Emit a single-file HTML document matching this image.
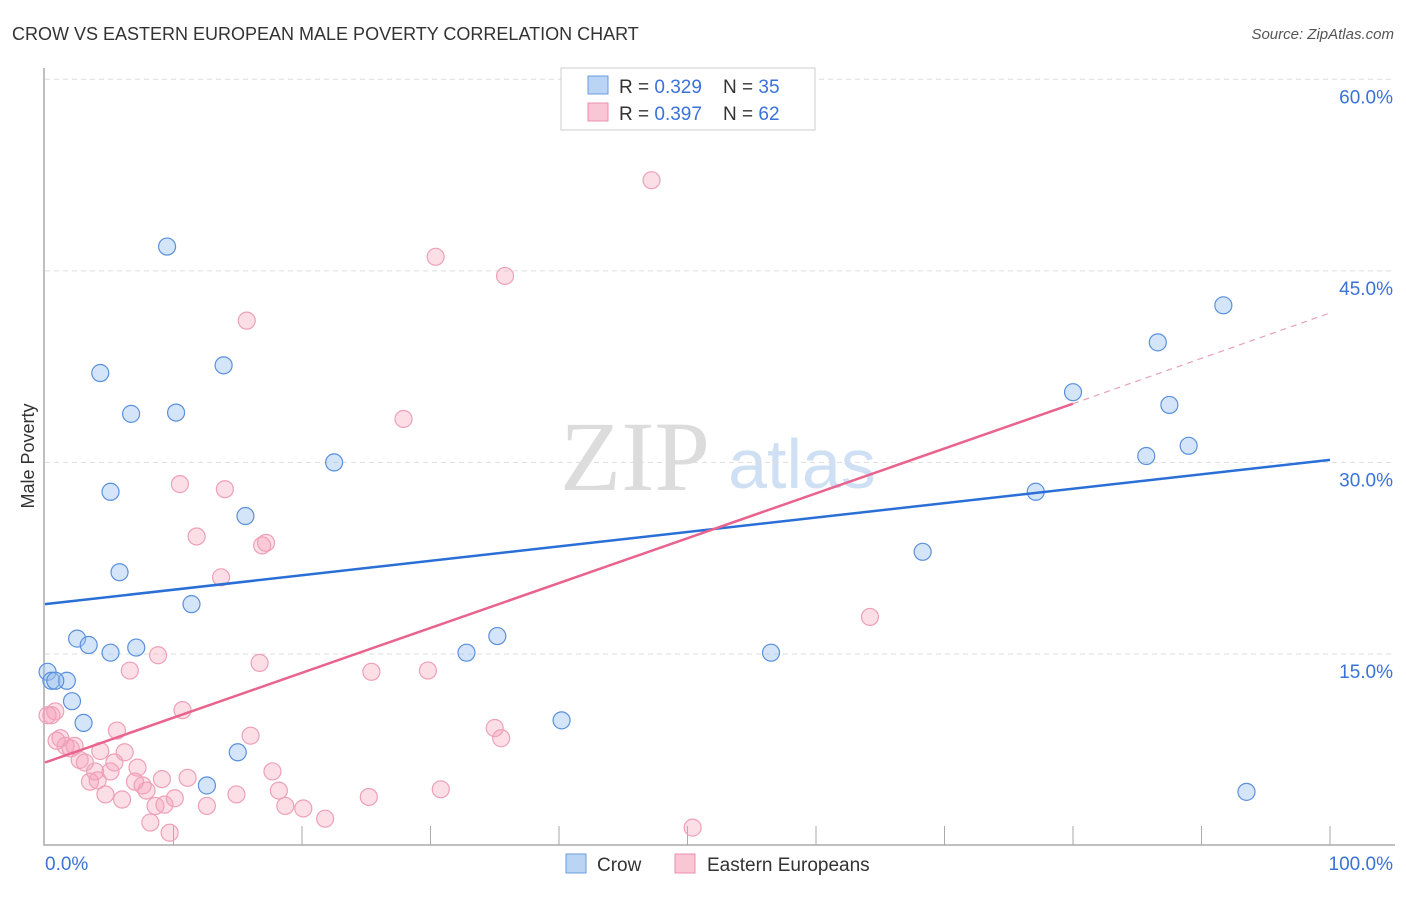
<!DOCTYPE html>
<html><head><meta charset="utf-8"><style>
body{margin:0;background:#fff;font-family:"Liberation Sans",sans-serif}
</style></head><body>
<svg id="c" width="1406" height="892" xmlns="http://www.w3.org/2000/svg" font-family="Liberation Sans, sans-serif">
<text x="12" y="40" font-size="18" fill="#333">CROW VS EASTERN EUROPEAN MALE POVERTY CORRELATION CHART</text>
<text x="1394" y="39" font-size="15" fill="#555" font-style="italic" text-anchor="end">Source: ZipAtlas.com</text>
<text x="34" y="456" font-size="18" fill="#333" text-anchor="middle" transform="rotate(-90 34 456)">Male Poverty</text>
<g><text x="635" y="490" font-size="100" fill="#dcdcdc" style="font-family:'Liberation Serif',serif" text-anchor="middle">ZIP</text><text x="802" y="488" font-size="70" fill="#cfe0f5" text-anchor="middle">atlas</text></g>
<g id="grid"></g><g id="pts"></g><g id="lines"></g>
<g>
<rect x="561" y="68" width="254" height="62" fill="#fff" stroke="#ccc"/>
<rect x="588" y="76" width="20" height="18" fill="#b9d4f5" stroke="#6a9de0"/>
<rect x="588" y="103" width="20" height="18" fill="#f9c6d5" stroke="#ec8fab"/>
<text x="619" y="93" font-size="19" fill="#333">R = <tspan fill="#3a72d8">0.329</tspan>&#160;&#160;&#160; N = <tspan fill="#3a72d8">35</tspan></text>
<text x="619" y="120" font-size="19" fill="#333">R = <tspan fill="#3a72d8">0.397</tspan>&#160;&#160;&#160; N = <tspan fill="#3a72d8">62</tspan></text>
</g>
<g>
<rect x="566" y="854" width="20" height="19" fill="#b9d4f5" stroke="#6a9de0"/>
<text x="597" y="871" font-size="19" fill="#333">Crow</text>
<rect x="675" y="854" width="20" height="19" fill="#f9c6d5" stroke="#ec8fab"/>
<text x="707" y="871" font-size="19" fill="#333">Eastern Europeans</text>
</g>
</svg>
<script>
const yTicks=[15,30,45,60];
const xLabels=["0.0%","100.0%"];
const crowX=[0.2,0.5,1.7,2.1,3.0,2.5,3.4,5.1,7.1,4.3,6.7,10.2,9.5,13.9,5.1,5.8,11.4,15.6,15.0,12.6,22.5,32.8,35.2,40.2,56.5,68.3,77.1,80.0,85.7,86.6,87.5,89.0,91.7,93.5,0.8];
const crowY=[13.6,12.9,12.9,11.3,9.6,16.2,15.7,15.1,15.5,37.0,33.8,33.9,46.9,37.6,27.7,21.4,18.9,25.8,7.3,4.7,30.0,15.1,16.4,9.8,15.1,23.0,27.7,35.5,30.5,39.4,34.5,31.3,42.3,4.2,12.9];
const eeX=[0.5,0.8,1.2,1.6,2.0,2.3,2.7,3.1,3.5,3.9,4.1,4.3,4.7,5.1,5.4,5.6,6.0,6.2,6.6,7.0,7.2,7.6,7.9,8.2,8.6,8.8,9.1,9.3,9.7,10.1,10.5,10.7,11.1,11.8,12.6,13.7,14.0,14.9,15.7,16.0,16.7,16.9,17.2,17.7,18.2,18.7,20.1,21.8,25.2,25.4,27.9,29.8,30.4,30.8,35.0,35.5,35.8,47.2,50.4,64.2,0.2,0.9];
const eeY=[10.2,10.5,8.4,7.8,7.6,7.8,6.7,6.5,5.0,5.8,5.1,7.4,4.0,5.8,6.5,9.0,3.6,7.3,13.7,5.0,6.1,4.7,4.3,1.8,3.1,14.9,5.2,3.2,1.0,3.7,28.3,10.6,5.3,24.2,3.1,21.0,27.9,4.0,41.1,8.6,14.3,23.5,23.7,5.8,4.3,3.1,2.9,2.1,3.8,13.6,33.4,13.7,46.1,4.4,9.2,8.4,44.6,52.1,1.4,17.9,10.2,8.2];
const crowLine=[0,18.9,100,30.2];
const eeLine=[0,6.5,80,34.6,100,41.7];
const X=v=>45+v*12.85, Y=v=>845.5-v*12.77;
const NS="http://www.w3.org/2000/svg";
function mk(t,a,p){const e=document.createElementNS(NS,t);for(const k in a)e.setAttribute(k,a[k]);p.appendChild(e);return e;}
const g=document.getElementById('grid');
for(const t of yTicks){const l=mk('line',{x1:45,x2:1395,y1:Y(t),y2:Y(t),stroke:'#ddd','stroke-dasharray':'5,4'},g);


const tx=mk('text',{x:1393,y:Y(t)+24,'font-size':19,fill:'#3a72d8','text-anchor':'end'},g);tx.textContent=t.toFixed(1)+'%';

}
const ax=mk('path',{d:'M44 68V845H1395',stroke:'#aaa',fill:'none','stroke-width':1.5},g);


for(let i=1;i<=10;i++){const tk=mk('line',{x1:X(i*10),x2:X(i*10),y1:826,y2:845,stroke:'#aaa'},g);

}
const l0=mk('text',{x:45,y:870,'font-size':19,fill:'#3a72d8'},g);l0.textContent=xLabels[0];


const l1=mk('text',{x:1393,y:870,'font-size':19,fill:'#3a72d8','text-anchor':'end'},g);l1.textContent=xLabels[1];


const p=document.getElementById('pts');
eeX.forEach((x,i)=>{const c=mk('circle',{cx:X(x),cy:Y(eeY[i]),r:8.5,fill:'rgba(245,160,185,0.35)',stroke:'#eea0b8','stroke-width':1.2},p);

});
crowX.forEach((x,i)=>{const c=mk('circle',{cx:X(x),cy:Y(crowY[i]),r:8.5,fill:'rgba(150,190,240,0.4)',stroke:'#5a90dc','stroke-width':1.2},p);

});
const L=document.getElementById('lines');
const b=mk('line',{x1:X(crowLine[0]),y1:Y(crowLine[1]),x2:X(crowLine[2]),y2:Y(crowLine[3]),stroke:'#2a6fd6','stroke-width':2.5},L);


const r=mk('line',{x1:X(eeLine[0]),y1:Y(eeLine[1]),x2:X(eeLine[2]),y2:Y(eeLine[3]),stroke:'#e8648e','stroke-width':2.5},L);


const rd=mk('line',{x1:X(eeLine[2]),y1:Y(eeLine[3]),x2:X(eeLine[4]),y2:Y(eeLine[5]),stroke:'#e8a0b8','stroke-width':1.2,'stroke-dasharray':'6,5'},L);


</script>
</body></html>
